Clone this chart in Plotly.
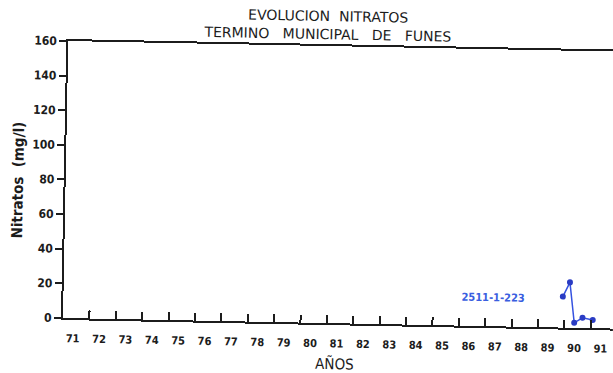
import plotly.graph_objects as go

# Nitrate readings, well 2511-1-223 (year as decimal, mg/l)
years = [89.92, 90.18, 90.37, 90.68, 91.07]
nitrate = [17.9, 26.2, 2.9, 5.9, 4.7]
well_id = "2511-1-223"

year_ticks = list(range(71, 92))
year_labels = [str(y) for y in year_ticks]
conc_ticks = [0, 20, 40, 60, 80, 100, 120, 140, 160]

title_lines = ["EVOLUCION  NITRATOS", "TERMINO   MUNICIPAL   DE   FUNES"]
x_title = "AÑOS"
y_title = "Nitratos  (mg/l)"

LINE_BLUE = "#3552e0"
DOT_BLUE = "#2a3cc4"
LABEL_BLUE = "#3a5ee0"
INK = "#1c1c1c"
FONT = "DejaVu Sans Condensed"
TITLE_FONT = "DejaVu Sans"

fig = go.Figure()
fig.add_trace(go.Scatter(
    x=years, y=nitrate, mode="lines+markers",
    line=dict(color=LINE_BLUE, width=1.5),
    marker=dict(color=DOT_BLUE, size=6),
    showlegend=False, hoverinfo="skip",
))

fig.update_layout(
    width=613, height=373,
    margin=dict(l=63, r=0, t=41, b=55, pad=0),
    paper_bgcolor="white", plot_bgcolor="white",
    font=dict(family=FONT, color=INK),
    xaxis=dict(
        range=[71, 91.84], tickmode="array", tickvals=year_ticks, ticktext=year_labels,
        showline=True, linecolor=INK, linewidth=2, mirror=True,
        ticks="inside", ticklen=8, tickwidth=2, tickcolor=INK,
        showgrid=False, zeroline=False, automargin=False,
        ticklabelshift=10, ticklabelstandoff=9,
        tickfont=dict(family=FONT, size=11, color=INK, weight="bold"),
    ),
    yaxis=dict(
        range=[0, 160], tickmode="array", tickvals=conc_ticks,
        showline=True, linecolor=INK, linewidth=2,
        ticks="outside", ticklen=7, tickwidth=2, tickcolor=INK,
        showgrid=False, zeroline=False, automargin=False,
        tickfont=dict(family=FONT, size=12, color=INK, weight="bold"),
    ),
    annotations=[
        dict(text="<br>".join(title_lines), xref="paper", yref="paper",
             x=0.471, y=1.076, align="center",
             showarrow=False, xanchor="center", yanchor="middle",
             font=dict(family=TITLE_FONT, size=14, color=INK, weight=500)),
        dict(text=x_title, xref="paper", yref="paper", x=0.4962, y=-0.1473,
             showarrow=False, xanchor="center", yanchor="middle",
             font=dict(family=FONT, size=15, color=INK)),
        dict(text=y_title, xref="paper", yref="paper", x=-0.0865, y=0.4946,
             showarrow=False, xanchor="center", yanchor="middle", textangle=-90,
             font=dict(family=FONT, size=15, color=INK, weight="bold")),
        dict(text=well_id, xref="x", yref="y", x=87.28, y=16.3,
             showarrow=False, xanchor="center", yanchor="middle",
             font=dict(family=FONT, size=11, color=LABEL_BLUE, weight="bold")),
    ],
)

# The sheet sits slightly skewed; turn the whole drawing about the axis corner.
tilt = ("var gd = document.getElementById('{plot_id}');"
        "gd.style.transformOrigin = '63px 318px';"
        "gd.style.transform = 'rotate(1.1deg)';")

fig.write_html("out.html", post_script=tilt)
